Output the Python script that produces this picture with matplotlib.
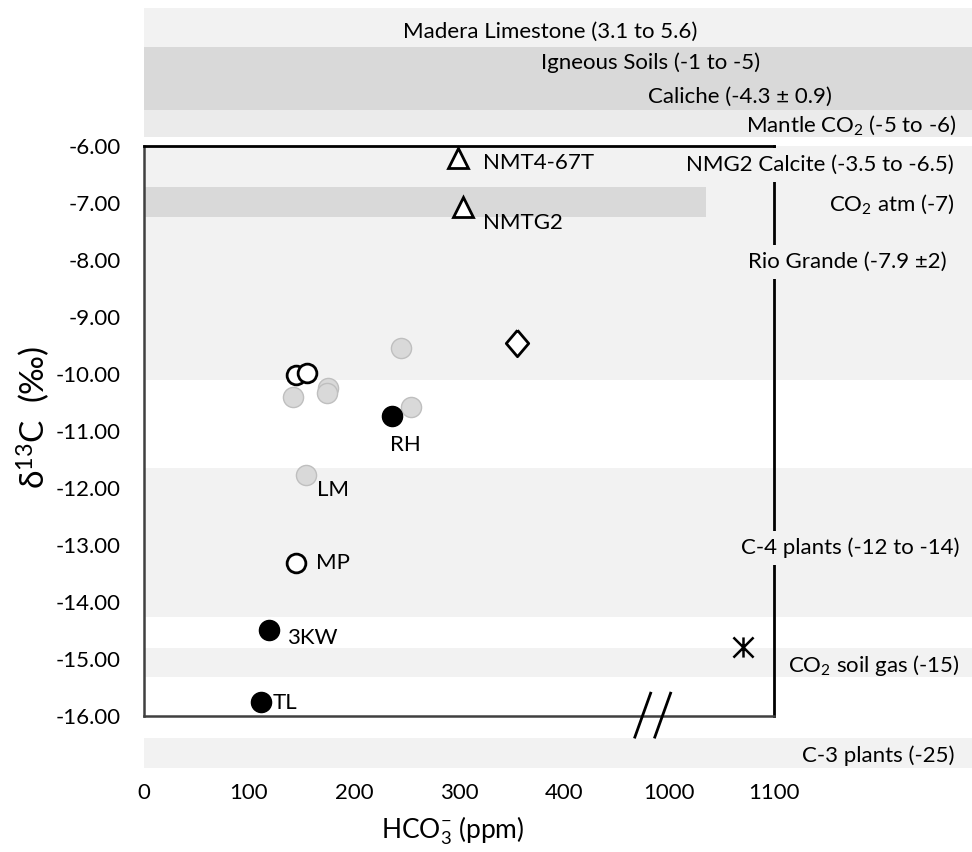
import numpy as np
import matplotlib.pyplot as plt
import matplotlib.transforms as mtransforms
from matplotlib.patches import Rectangle
from matplotlib.path import Path

plt.rcParams['font.family'] = ['Lato', 'DejaVu Sans']
plt.rcParams['mathtext.fontset'] = 'custom'
plt.rcParams['mathtext.rm'] = 'Lato'
plt.rcParams['mathtext.it'] = 'Lato:italic'
plt.rcParams['mathtext.bf'] = 'Lato:bold'

# samples: HCO3- (ppm) and d13C (permil)
gray_x = [245, 142, 175, 174, 254, 154]
gray_y = [-9.54, -10.40, -10.25, -10.33, -10.58, -11.77]
open_x = [145, 155, 145]
open_y = [-10.02, -9.98, -13.32]
black_x = [236, 119, 111]
black_y = [-10.74, -14.49, -15.75]
tri_x = [299, 304]
tri_y = [-6.21, -7.07]
diam_x = [355]
diam_y = [-9.46]
star_x = [1070]
star_y = [-14.79]

# sample names: (name, series, index in series)
names = ['NMT4-67T', 'NMTG2', 'RH', 'LM', 'MP', '3KW', 'TL']
name_series = ['tri', 'tri', 'black', 'gray', 'open', 'black', 'black']
name_index = [0, 1, 0, 5, 2, 1, 2]
# text offsets in pixels (dx, dy) and alignment
name_off = [(25, -5), (20, -16), (14, -29), (11, -15), (20, 0), (18, -8), (12, -1)]
name_ha = ['left', 'left', 'center', 'left', 'left', 'left', 'left']

# carbon source ranges drawn as bands (top, bottom in d13C scale)
band_top = [-3.58, -4.26, -5.37, -6.0, -6.72, -11.65, -14.81, -16.39]
band_bot = [-4.26, -5.37, -5.84, -10.1, -7.25, -14.26, -15.32, -16.91]
band_col = ['#f2f2f2', '#d9d9d9', '#ebebeb', '#f2f2f2', '#d9d9d9',
            '#f2f2f2', '#f2f2f2', '#f2f2f2']
band_end = [972, 972, 972, 972, 706, 972, 972, 972]

src_labels = ['Madera Limestone (3.1 to 5.6)', 'Igneous Soils (-1 to -5)',
              'Caliche (-4.3 ± 0.9)', 'Mantle CO$_2$ (-5 to -6)',
              'NMG2 Calcite (-3.5 to -6.5)', 'CO$_2$ atm (-7)',
              'Rio Grande (-7.9 ±2)', 'C-4 plants (-12 to -14)',
              'CO$_2$ soil gas (-15)', 'C-3 plants (-25)']
src_y = [-4.0, -4.544, -5.14, -5.63, -6.33, -7.02, -8.04, -13.05, -15.11, -16.70]
src_xpx = [550, 651, 740, 956, 954, 954, 947, 959, 960, 954]
src_ha = ['center', 'center', 'center', 'right', 'right', 'right', 'right',
          'right', 'right', 'right']
src_box = [False, False, False, False, True, False, True, True, False, False]

xtick_vals = [0, 100, 200, 300, 400, 1000, 1100]
ytick_vals = np.arange(-16, -5, 1)


def xpos(v):
    # broken axis: 400 ... 1000 gap
    v = np.asarray(v, dtype=float)
    return np.where(v > 700, v - 500, v)


# marker shapes
diamond = Path([(0, 1), (0.85, 0), (0, -1), (-0.85, 0), (0, 1)])
star = Path([(0, 1), (0, -1), (-1, 1), (1, -1), (-1, -1), (1, 1)],
            [Path.MOVETO, Path.LINETO, Path.MOVETO, Path.LINETO,
             Path.MOVETO, Path.LINETO])

W, H = 972, 852
fig = plt.figure(figsize=(W / 100, H / 100), dpi=100)
fig.patch.set_facecolor('white')
ax = fig.add_axes([144 / W, 1 - 716 / H, 630 / W, 570 / H])
ax.patch.set_facecolor('none')
ax.set_xlim(0, 600)
ax.set_ylim(-16, -6)

trans = mtransforms.blended_transform_factory(fig.transFigure, ax.transData)

for t, b, c, e in zip(band_top, band_bot, band_col, band_end):
    ax.add_patch(Rectangle((144 / W, b), (e - 144) / W, t - b, transform=trans,
                           facecolor=c, edgecolor='none', zorder=0.5,
                           clip_on=False))

fs = 16
for lab, y, xp, ha, box in zip(src_labels, src_y, src_xpx, src_ha, src_box):
    kw = {}
    if box:
        kw['bbox'] = dict(facecolor='#f2f2f2', edgecolor='none', pad=5)
    ax.text(xp / W, y, lab, transform=trans, ha=ha, va='center',
            fontsize=fs, color='black', zorder=5, clip_on=False, **kw)

ms = 14.5
ax.plot(xpos(gray_x), gray_y, 'o', ms=ms, mfc='#d9d9d9', mec='#bfbfbf',
        mew=1.0, zorder=4, clip_on=False)
ax.plot(xpos(open_x), open_y, 'o', ms=ms - 1, mfc='white', mec='black',
        mew=2.0, zorder=4, clip_on=False)
ax.plot(xpos(black_x), black_y, 'o', ms=ms, mfc='black', mec='black',
        mew=1.0, zorder=4, clip_on=False)
ax.plot(xpos(tri_x), tri_y, '^', ms=15, mfc='white', mec='black',
        mew=2.0, zorder=4, clip_on=False)
ax.plot(xpos(diam_x), diam_y, marker=diamond, ls='none', ms=19, mfc='white',
        mec='black', mew=2.0, zorder=4, clip_on=False)
ax.plot(xpos(star_x), star_y, marker=star, ls='none', ms=14.5, mfc='none',
        mec='black', mew=1.8, zorder=4, clip_on=False)

series = {'gray': (gray_x, gray_y), 'open': (open_x, open_y),
          'black': (black_x, black_y), 'tri': (tri_x, tri_y)}
for nm, s, i, off, ha in zip(names, name_series, name_index, name_off, name_ha):
    sx, sy = series[s]
    ax.annotate(nm, (float(xpos(sx[i])), sy[i]), xytext=(off[0] * 0.72, off[1] * 0.72),
                textcoords='offset points', ha=ha, va='center', fontsize=fs,
                zorder=6)

# frame
for side in ['top', 'right']:
    ax.spines[side].set_color('black')
    ax.spines[side].set_linewidth(2.0)
for side in ['left', 'bottom']:
    ax.spines[side].set_color('#404040')
    ax.spines[side].set_linewidth(1.8)
for sp in ax.spines.values():
    sp.set_zorder(3)

# axis break marks
brk = 485
for dx in (-10, 9):
    ax.plot([xpos(brk) + dx - 7.5, xpos(brk) + dx + 7.5], [-16.37, -15.60],
            color='black', lw=2.0, zorder=6, clip_on=False)

ax.set_xticks(xpos(xtick_vals))
ax.set_xticklabels([str(v) for v in xtick_vals])
ax.set_yticks(ytick_vals)
ax.set_yticklabels(['%.2f' % v for v in ytick_vals])
ax.tick_params(axis='x', length=0, pad=48, labelsize=fs)
ax.tick_params(axis='y', length=0, pad=17, labelsize=fs)

fig.text(453 / W, 1 - 831 / H, 'HCO$_3^{-}$ (ppm)', ha='center', va='center',
         fontsize=19)
fig.text(33 / W, 1 - 417 / H, 'δ$^{13}$C  (‰)', rotation=90, ha='center',
         va='center', fontsize=24)

fig.savefig('out.png', dpi=100)
